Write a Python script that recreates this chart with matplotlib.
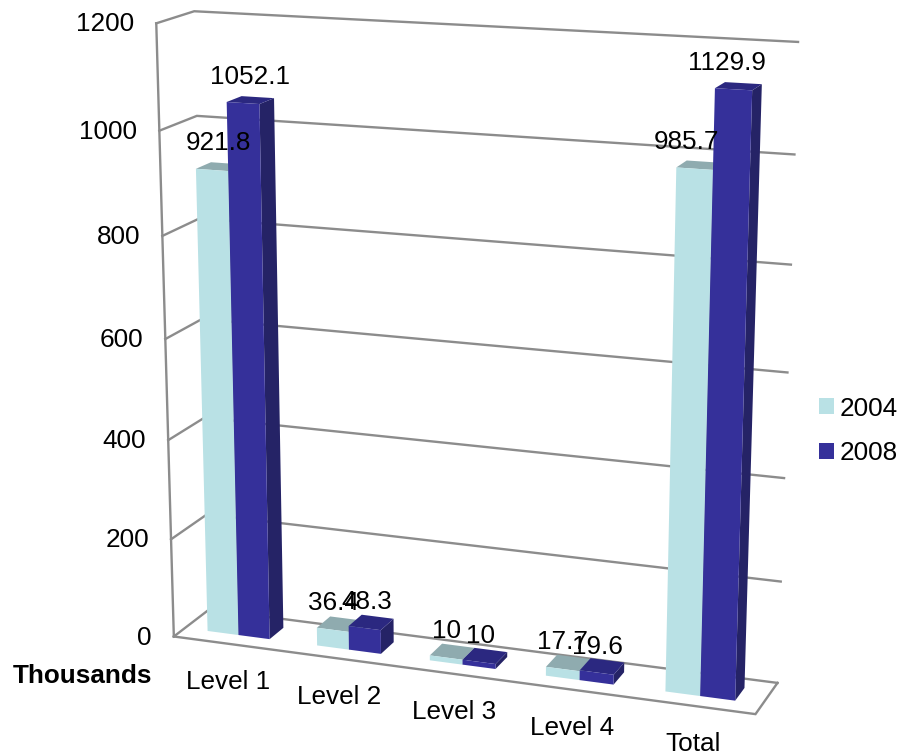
import numpy as np
import matplotlib
matplotlib.use("Agg")
import matplotlib.pyplot as plt
from matplotlib.patches import Patch

plt.rcParams['font.family'] = ['Liberation Sans', 'DejaVu Sans']

categories = ["Level 1", "Level 2", "Level 3", "Level 4", "Total"]
values_2004 = [921.8, 36.4, 10, 17.7, 985.7]
values_2008 = [1052.1, 48.3, 10, 19.6, 1129.9]
labels_2004 = ["921.8", "36.4", "10", "17.7", "985.7"]
labels_2008 = ["1052.1", "48.3", "10", "19.6", "1129.9"]
y_ticks = [0, 200, 400, 600, 800, 1000, 1200]
series_names = ["2004", "2008"]

W, H = 901, 754
NCAT = len(categories)
YMAX = y_ticks[-1]

# Perspective camera: fitted from the seven visible box corners (category pos, value, depth) -> pixels
box = [(0, YMAX, 0), (0, 0, 0), (0, YMAX, 1), (0, 0, 1), (NCAT, YMAX, 1), (NCAT, 0, 1), (NCAT, 0, 0)]
pix = [(155.5, 23), (175, 636), (195, 11.5), (208, 610), (798, 42), (778, 682), (755, 715)]


def fit_camera(src, dst):
    rows = []
    rhs = []
    for (x, v, d), (u, w) in zip(src, dst):
        v = v / YMAX
        rows.append([x, v, d, 1, 0, 0, 0, 0, -u * x, -u * v, -u * d])
        rhs.append(u)
        rows.append([0, 0, 0, 0, x, v, d, 1, -w * x, -w * v, -w * d])
        rhs.append(w)
    p = np.linalg.lstsq(np.array(rows, float), np.array(rhs, float), rcond=None)[0]
    return np.append(p, 1.0).reshape(3, 4)


CAM = fit_camera(box, pix)


def proj(x, v, d):
    h = CAM @ np.array([x, v / YMAX, d, 1.0])
    return h[0] / h[2], h[1] / h[2]


fig = plt.figure(figsize=(W / 100, H / 100), dpi=100, facecolor="white")
ax = fig.add_axes([0, 0, 1, 1])
ax.set_xlim(0, W)
ax.set_ylim(H, 0)
ax.axis("off")

GRID = "#8c8c8c"
LIGHT, LIGHT_TOP, LIGHT_SIDE = "#B9E1E5", "#8FABAF", "#8FABAF"
DARK, DARK_TOP, DARK_SIDE = "#35309A", "#2B2880", "#252366"
FS = 18.8
LABEL_NUDGE = [8, 3, 2, 2, -6]


def line(pts):
    xy = np.array([proj(*p) for p in pts])
    ax.plot(xy[:, 0], xy[:, 1], color=GRID, lw=1.7, solid_joinstyle="miter", zorder=1)


for t in y_ticks:
    line([(0, t, 0), (0, t, 1), (NCAT, t, 1)])
    px, py = proj(0, t, 0)
    ax.text(px - 22, py + 1, str(t), ha="right", va="center", fontsize=FS, color="black", zorder=6)
line([(0, 0, 0), (0, YMAX, 0)])
line([(0, 0, 0), (NCAT, 0, 0), (NCAT, 0, 1)])

D0, D1 = 0.31, 0.72
GROUP_START, GROUP_W = 0.21, 0.57


def bar(x0, x1, v, cols, z):
    front, top, side = cols
    faces = [
        ([(x1, 0, D0), (x1, 0, D1), (x1, v, D1), (x1, v, D0)], side),
        ([(x0, v, D0), (x1, v, D0), (x1, v, D1), (x0, v, D1)], top),
        ([(x0, 0, D0), (x1, 0, D0), (x1, v, D0), (x0, v, D0)], front),
    ]
    for pts, c in faces:
        xy = np.array([proj(*p) for p in pts])
        ax.fill(xy[:, 0], xy[:, 1], color=c, lw=0, zorder=z)


for i in range(NCAT):
    x0 = i + GROUP_START
    xm = x0 + GROUP_W / 2
    x1 = x0 + GROUP_W
    bar(x0, xm, values_2004[i], (LIGHT, LIGHT_TOP, LIGHT_SIDE), 2 + i * 0.1)
    bar(xm, x1, values_2008[i], (DARK, DARK_TOP, DARK_SIDE), 2.05 + i * 0.1)
    lx, ly = proj(x0 + GROUP_W / 4, values_2004[i], D0)
    ax.text(lx - 2 + LABEL_NUDGE[i], ly - 27, labels_2004[i], ha="center", va="center", fontsize=FS, zorder=7)
    lx, ly = proj(xm + GROUP_W / 4, values_2008[i], D0)
    ax.text(lx - 1 + LABEL_NUDGE[i], ly - 26, labels_2008[i], ha="center", va="center", fontsize=FS, zorder=7)
    cx, cy = proj(i + 0.5, 0, 0)
    ax.text(cx, cy + 38, categories[i], ha="center", va="center", fontsize=FS, zorder=6)

ax.text(152, 676, "Thousands", ha="right", va="center", fontsize=FS, fontweight="bold", zorder=6)

handles = [Patch(color=LIGHT, lw=0, label=series_names[0]), Patch(color=DARK, lw=0, label=series_names[1])]
ax.legend(handles=handles, loc="center left", bbox_to_anchor=(814 / W, 1 - 431 / H), frameon=False,
          fontsize=FS, handlelength=0.55, handleheight=0.55, handletextpad=0.22,
          labelspacing=0.8, borderpad=0.2, borderaxespad=0)

fig.savefig("out.png", dpi=100, facecolor="white")
